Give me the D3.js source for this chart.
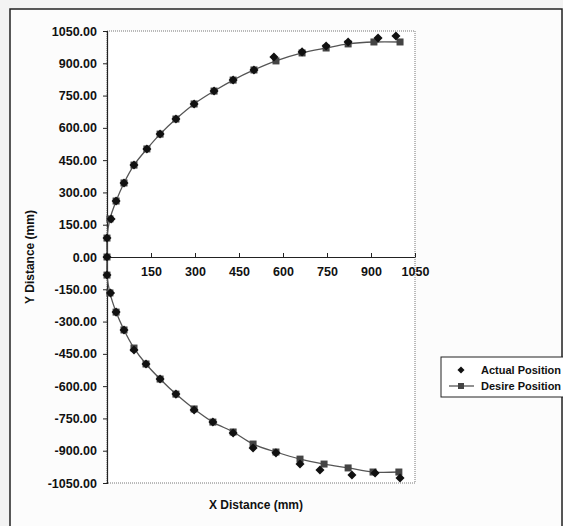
<!DOCTYPE html>
<html>
<head>
<meta charset="utf-8">
<script src="https://cdn.jsdelivr.net/npm/d3@7"></script>
<style>
  body { margin: 0; background: #f3f3f3; }
  svg text { font-family: "Liberation Sans", Arial, sans-serif; font-weight: bold; fill: #111; }
</style>
</head>
<body>
<div id="chart"></div>
<script>
// Desired path (squares + smoothed line), upper half then lower half, both from the origin
const desireUpperX = [0, 0, 10, 31, 58, 92, 136, 181, 235, 297, 365, 430, 501, 576, 665, 747, 822, 910, 999];
const desireUpperY = [0, 88, 177, 260, 344, 427, 502, 571, 641, 711, 771, 822, 869, 911, 948, 971, 990, 999, 999];
const desireLowerX = [0, 0, 10, 31, 58, 92, 133, 181, 235, 297, 361, 430, 498, 576, 658, 740, 822, 907, 995];
const desireLowerY = [0, -84, -167, -256, -339, -423, -497, -567, -637, -706, -767, -813, -869, -906, -939, -962, -980, -999, -999];

// Actual measured positions (diamonds)
const actualUpperX = [0, 0, 14, 31, 58, 92, 136, 181, 235, 297, 365, 430, 501, 569, 665, 747, 822, 924, 985];
const actualUpperY = [0, 88, 177, 260, 344, 427, 502, 571, 641, 711, 771, 822, 869, 929, 953, 980, 999, 1017, 1027];
const actualLowerX = [0, 0, 12, 31, 58, 92, 133, 181, 235, 297, 361, 430, 498, 576, 658, 726, 835, 914, 999];
const actualLowerY = [0, -84, -167, -256, -339, -432, -497, -567, -637, -711, -767, -818, -887, -910, -962, -990, -1013, -1004, -1027];

const xTicks = [150, 300, 450, 600, 750, 900, 1050];
const yTicks = [-1050, -900, -750, -600, -450, -300, -150, 0, 150, 300, 450, 600, 750, 900, 1050];
const seriesNames = ["Actual Position", "Desire Position"];

const W = 563, H = 526;
const plot = { left: 107, right: 415, top: 31, bottom: 483 };

const svg = d3.select("#chart").append("svg")
    .attr("width", W)
    .attr("height", H);

// chart area frame
svg.append("rect")
    .attr("x", 10).attr("y", 9)
    .attr("width", 552).attr("height", 530)
    .attr("fill", "#fcfcfc")
    .attr("stroke", "#222")
    .attr("stroke-width", 1.5);

const x = d3.scaleLinear().domain([0, 1050]).range([plot.left, plot.right]);
const y = d3.scaleLinear().domain([-1050, 1050]).range([plot.bottom, plot.top]);

// plot area
svg.append("rect")
    .attr("x", plot.left).attr("y", plot.top)
    .attr("width", plot.right - plot.left).attr("height", plot.bottom - plot.top)
    .attr("fill", "#fff")
    .attr("stroke", "#777")
    .attr("stroke-width", 1)
    .attr("stroke-dasharray", "1,1");

// y axis, plain hyphen for negatives like the original
const yFmt = d => (d < 0 ? "-" : "") + Math.abs(d).toFixed(2);
const yAxis = svg.append("g")
    .attr("transform", `translate(${plot.left},0)`)
    .call(d3.axisLeft(y).tickValues(yTicks).tickSize(4).tickPadding(6).tickFormat(yFmt));
yAxis.select(".domain").attr("stroke", "#222").attr("stroke-width", 1.2);
yAxis.selectAll(".tick line").attr("stroke", "#222");
yAxis.selectAll("text").style("font-size", "12.5px").attr("fill", "#111");

// x axis crossing at y = 0, ticks pointing up
const xAxis = svg.append("g")
    .attr("transform", `translate(0,${y(0)})`)
    .call(d3.axisTop(x).tickValues(xTicks).tickSize(4).tickSizeOuter(0).tickFormat(d3.format("d")));
xAxis.select(".domain").attr("stroke", "#222").attr("stroke-width", 1.2);
xAxis.selectAll(".tick line").attr("stroke", "#222");
xAxis.selectAll("text")
    .attr("y", 19)
    .style("font-size", "12.5px")
    .attr("fill", "#111");

// axis titles
svg.append("text")
    .attr("x", (plot.left + plot.right) / 2 - 5)
    .attr("y", 509)
    .attr("text-anchor", "middle")
    .style("font-size", "12px")
    .text("X Distance (mm)");

svg.append("text")
    .attr("transform", `translate(34,${y(0)}) rotate(-90)`)
    .attr("text-anchor", "middle")
    .style("font-size", "12px")
    .text("Y Distance (mm)");

const zip = (xs, ys) => xs.map((v, i) => ({ x: v, y: ys[i] }));

const desired = zip(desireUpperX, desireUpperY).reverse().concat(zip(desireLowerX, desireLowerY).slice(1));
const actual = zip(actualUpperX, actualUpperY).concat(zip(actualLowerX, actualLowerY).slice(1));

const line = d3.line()
    .x(d => x(d.x))
    .y(d => y(d.y))
    .curve(d3.curveCatmullRom.alpha(0.5));

svg.append("path")
    .datum(desired)
    .attr("fill", "none")
    .attr("stroke", "#555")
    .attr("stroke-width", 1.3)
    .attr("d", line);

svg.selectAll(".desire")
    .data(desired)
    .enter().append("rect")
    .attr("class", "desire")
    .attr("x", d => x(d.x) - 3.5)
    .attr("y", d => y(d.y) - 3.5)
    .attr("width", 7).attr("height", 7)
    .attr("fill", "#444");

// square diamond: rotated square
svg.selectAll(".actual")
    .data(actual)
    .enter().append("rect")
    .attr("class", "actual")
    .attr("x", -3.2).attr("y", -3.2)
    .attr("width", 6.4).attr("height", 6.4)
    .attr("transform", d => `translate(${x(d.x)},${y(d.y)}) rotate(45)`)
    .attr("fill", "#111");

// legend
const legend = svg.append("g").attr("transform", "translate(441,357)");
legend.append("rect")
    .attr("width", 130).attr("height", 40)
    .attr("fill", "#fff")
    .attr("stroke", "#222")
    .attr("stroke-width", 1);

legend.append("rect")
    .attr("x", -2.5).attr("y", -2.5)
    .attr("width", 5).attr("height", 5)
    .attr("transform", "translate(20,13) rotate(45)")
    .attr("fill", "#111");

legend.append("line")
    .attr("x1", 8).attr("x2", 33)
    .attr("y1", 29).attr("y2", 29)
    .attr("stroke", "#555").attr("stroke-width", 1.3);
legend.append("rect")
    .attr("x", 17).attr("y", 26)
    .attr("width", 6).attr("height", 6)
    .attr("fill", "#444");

legend.selectAll(".ltext")
    .data(seriesNames)
    .enter().append("text")
    .attr("class", "ltext")
    .attr("x", 40)
    .attr("y", (d, i) => 17 + i * 16)
    .style("font-size", "11px")
    .text(d => d);
</script>
</body>
</html>
